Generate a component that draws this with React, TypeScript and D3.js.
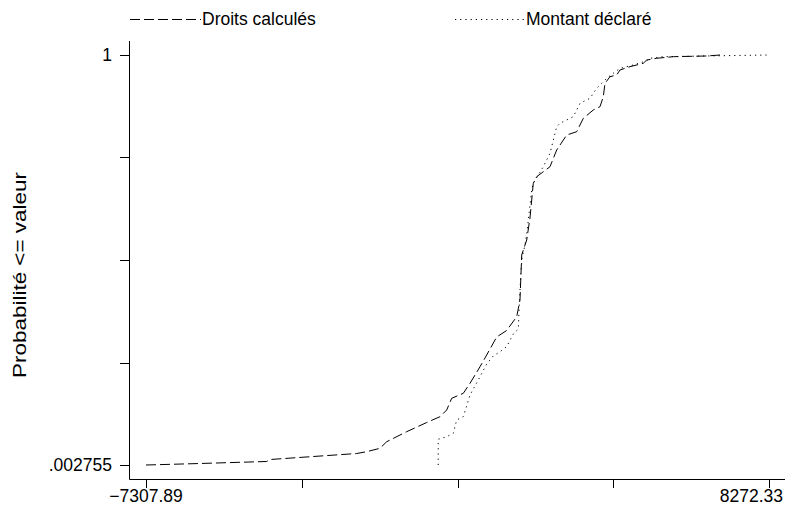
import React from "react";
import * as d3 from "d3";

const W = 786;
const H = 507;

// Droits calculés: [value, cumulative probability]
const droitsX = [-7307.89, -5957, -4289, -4207, -2039, -1789, -1456, -1288, -788, -288, 44, 212, 337, 627, 795, 1045, 1212, 1462, 1712, 1963, 2045, 2088, 2128, 2213, 2295, 2378, 2463, 2795, 2963, 3213, 3463, 3628, 3878, 4046, 4128, 4171, 4296, 4463, 4546, 4796, 5129, 5214, 5464, 5879, 6714, 7047];
const droitsP = [0.002755, 0.0064, 0.0113, 0.0161, 0.0307, 0.0351, 0.0434, 0.0594, 0.0838, 0.1061, 0.1202, 0.1365, 0.165, 0.1771, 0.2015, 0.2418, 0.2703, 0.3141, 0.3299, 0.3635, 0.4041, 0.5135, 0.5257, 0.55, 0.6036, 0.688, 0.704, 0.7283, 0.7689, 0.8054, 0.8134, 0.846, 0.8662, 0.8743, 0.8986, 0.9312, 0.9472, 0.9514, 0.9635, 0.9716, 0.9798, 0.9878, 0.992, 0.9959, 0.9976, 1];

// Montant déclaré
const montantX = [0, 0, 212, 377, 462, 627, 795, 1045, 1212, 1377, 1545, 1712, 1877, 2003, 2027, 2058, 2095, 2170, 2220, 2338, 2378, 2628, 2795, 2963, 3045, 3378, 3546, 3796, 3963, 4128, 4213, 4378, 4546, 4879, 5214, 5296, 5629, 7129, 8272.33];
const montantP = [0.002755, 0.0653, 0.0716, 0.0799, 0.1122, 0.1202, 0.173, 0.2175, 0.2484, 0.2679, 0.2783, 0.2905, 0.3214, 0.3335, 0.392, 0.4528, 0.5063, 0.5379, 0.5695, 0.6717, 0.688, 0.7283, 0.7609, 0.8256, 0.8339, 0.8499, 0.8825, 0.8947, 0.919, 0.9351, 0.9433, 0.9555, 0.9676, 0.9757, 0.9861, 0.992, 0.9959, 0.9983, 1];

const xTickValues = [-7307.89, -3412.835, 482.22, 4377.275, 8272.33];
const xTickLabels = ["\u22127307.89", "", "", "", "8272.33"];
const yTickValues = [0.002755, 0.25204, 0.50138, 0.75071, 1];
const yTickLabels = [".002755", "", "", "", "1"];

const seriesNames = ["Droits calculés", "Montant déclaré"];
const yTitle = "Probabilité <= valeur";

const FONT = "Liberation Sans, Arial, Helvetica, sans-serif";

export default function App() {
  const x = d3.scaleLinear().domain([-7307.89, 8272.33]).range([146, 769]);
  const y = d3.scaleLinear().domain([0.002755, 1]).range([465, 55]);
  const line = d3
    .line<[number, number]>()
    .x((d) => x(d[0]))
    .y((d) => y(d[1]));
  const droits: [number, number][] = droitsX.map((v, i) => [v, droitsP[i]]);
  const montant: [number, number][] = montantX.map((v, i) => [v, montantP[i]]);

  const axisLeft = 129.5;
  const axisBottom = 479.5;

  return (
    <svg
      width={W}
      height={H}
      style={{ position: "absolute", left: 0, top: 0, background: "#fff" }}
      fontFamily={FONT}
    >
      <rect x={0} y={0} width={W} height={H} fill="#fff" />
      {/* legend */}
      <line x1={130} x2={201} y1={19.5} y2={19.5} stroke="#000" strokeWidth={1} strokeDasharray="10,4" />
      <text x={202} y={25} fontSize={17.5} fill="#000">{seriesNames[0]}</text>
      <line x1={455} x2={525} y1={19.5} y2={19.5} stroke="#000" strokeWidth={1} strokeDasharray="1.2,4" />
      <text x={526} y={25} fontSize={17.5} fill="#000">{seriesNames[1]}</text>

      {/* axes */}
      <line x1={axisLeft} x2={axisLeft} y1={41} y2={axisBottom} stroke="#000" strokeWidth={1} />
      <line x1={axisLeft} x2={785} y1={axisBottom} y2={axisBottom} stroke="#000" strokeWidth={1} />
      {yTickValues.map((v, i) => (
        <g key={"y" + i}>
          <line x1={120} x2={axisLeft} y1={Math.round(y(v)) + 0.5} y2={Math.round(y(v)) + 0.5} stroke="#000" strokeWidth={1} />
          {yTickLabels[i] && (
            <text x={112} y={y(v)} dy="0.35em" textAnchor="end" fontSize={17.5} fill="#000">
              {yTickLabels[i]}
            </text>
          )}
        </g>
      ))}
      {xTickValues.map((v, i) => (
        <g key={"x" + i}>
          <line x1={Math.round(x(v)) + 0.5} x2={Math.round(x(v)) + 0.5} y1={axisBottom} y2={488} stroke="#000" strokeWidth={1} />
          {xTickLabels[i] && (
            <text
              x={i === xTickValues.length - 1 ? 783 : x(v)}
              y={502}
              textAnchor={i === xTickValues.length - 1 ? "end" : "middle"}
              fontSize={17.5}
              fill="#000"
            >
              {xTickLabels[i]}
            </text>
          )}
        </g>
      ))}
      <text
        transform={`translate(26,275) rotate(-90)`}
        textAnchor="middle"
        fontSize={18}
        textLength={206}
        lengthAdjust="spacingAndGlyphs"
        fill="#000"
      >
        {yTitle}
      </text>

      {/* series */}
      <path d={line(droits) || ""} fill="none" stroke="#000" strokeWidth={1} strokeDasharray="10,4" />
      <path d={line(montant) || ""} fill="none" stroke="#000" strokeWidth={1} strokeDasharray="1.2,4" />
    </svg>
  );
}
